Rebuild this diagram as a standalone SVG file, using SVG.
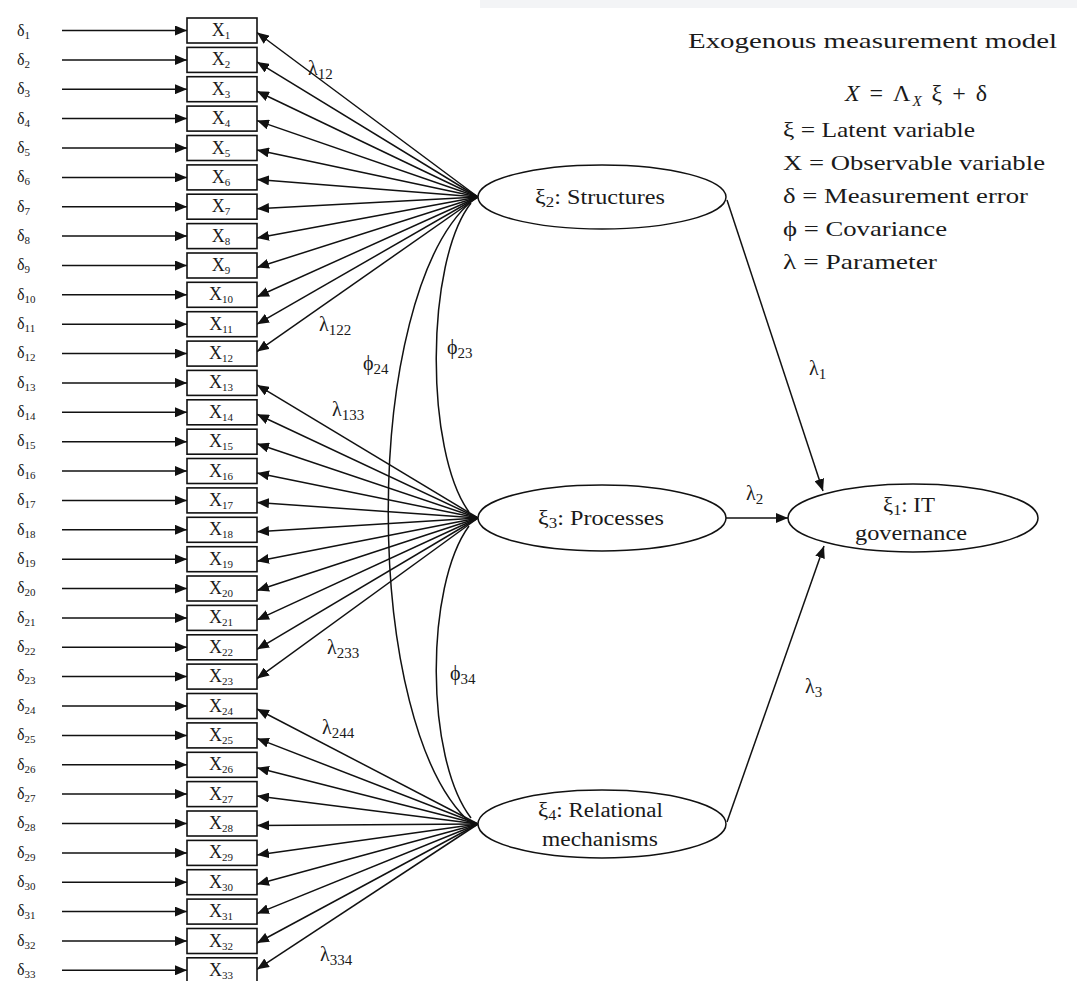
<svg xmlns="http://www.w3.org/2000/svg" width="1077" height="981" viewBox="0 0 1077 981" font-family="'Liberation Serif', 'DejaVu Serif', 'Times New Roman', serif">
<style>
text{font-family:'Liberation Serif','DejaVu Serif','Times New Roman',serif;fill:#1a1a1a}
.d{font-size:16px}
.ds{font-size:11px}
.x{font-size:18px}
.xs{font-size:11px}
.box{fill:#fff;stroke:#111;stroke-width:1.6}
.ell{fill:#fff;stroke:#111;stroke-width:1.5}
.ln{stroke:#111;stroke-width:1.5;fill:none}
.arr{stroke:#111;stroke-width:1.5;fill:none;marker-end:url(#ah)}
.lab{font-size:20px}
.ls{font-size:15px}
.nls{font-size:14px}
.nl{font-size:20px}
.leg{font-size:21px}
.eq{font-size:24px}
</style>
<defs>
<marker id="ah" markerWidth="12" markerHeight="10" refX="12" refY="5" orient="auto" markerUnits="userSpaceOnUse"><path d="M0,0 L12,5 L0,10 Z" fill="#111"/></marker>
</defs>
<rect width="1077" height="981" fill="#fff"/>
<rect x="480" y="0" width="597" height="8" fill="#f3f4f6"/>

<g id="connectors">
<g id="error-arrows">
<line class="arr" x1="62" y1="30.5" x2="187" y2="30.5"/>
<line class="arr" x1="62" y1="59.9" x2="187" y2="59.9"/>
<line class="arr" x1="62" y1="89.2" x2="187" y2="89.2"/>
<line class="arr" x1="62" y1="118.6" x2="187" y2="118.6"/>
<line class="arr" x1="62" y1="148" x2="187" y2="148"/>
<line class="arr" x1="62" y1="177.4" x2="187" y2="177.4"/>
<line class="arr" x1="62" y1="206.7" x2="187" y2="206.7"/>
<line class="arr" x1="62" y1="236.1" x2="187" y2="236.1"/>
<line class="arr" x1="62" y1="265.5" x2="187" y2="265.5"/>
<line class="arr" x1="62" y1="294.8" x2="187" y2="294.8"/>
<line class="arr" x1="62" y1="324.2" x2="187" y2="324.2"/>
<line class="arr" x1="62" y1="353.6" x2="187" y2="353.6"/>
<line class="arr" x1="62" y1="382.9" x2="187" y2="382.9"/>
<line class="arr" x1="62" y1="412.3" x2="187" y2="412.3"/>
<line class="arr" x1="62" y1="441.7" x2="187" y2="441.7"/>
<line class="arr" x1="62" y1="471" x2="187" y2="471"/>
<line class="arr" x1="62" y1="500.4" x2="187" y2="500.4"/>
<line class="arr" x1="62" y1="529.8" x2="187" y2="529.8"/>
<line class="arr" x1="62" y1="559.2" x2="187" y2="559.2"/>
<line class="arr" x1="62" y1="588.5" x2="187" y2="588.5"/>
<line class="arr" x1="62" y1="617.9" x2="187" y2="617.9"/>
<line class="arr" x1="62" y1="647.3" x2="187" y2="647.3"/>
<line class="arr" x1="62" y1="676.6" x2="187" y2="676.6"/>
<line class="arr" x1="62" y1="706" x2="187" y2="706"/>
<line class="arr" x1="62" y1="735.4" x2="187" y2="735.4"/>
<line class="arr" x1="62" y1="764.8" x2="187" y2="764.8"/>
<line class="arr" x1="62" y1="794.1" x2="187" y2="794.1"/>
<line class="arr" x1="62" y1="823.5" x2="187" y2="823.5"/>
<line class="arr" x1="62" y1="852.9" x2="187" y2="852.9"/>
<line class="arr" x1="62" y1="882.2" x2="187" y2="882.2"/>
<line class="arr" x1="62" y1="911.6" x2="187" y2="911.6"/>
<line class="arr" x1="62" y1="941" x2="187" y2="941"/>
<line class="arr" x1="62" y1="970.3" x2="187" y2="970.3"/>
</g>
<g id="loadings-xi2">
<line class="arr" x1="478" y1="197" x2="257" y2="32.5"/>
<line class="arr" x1="478" y1="197" x2="257" y2="61.9"/>
<line class="arr" x1="478" y1="197" x2="257" y2="91.2"/>
<line class="arr" x1="478" y1="197" x2="257" y2="120.6"/>
<line class="arr" x1="478" y1="197" x2="257" y2="150"/>
<line class="arr" x1="478" y1="197" x2="257" y2="179.4"/>
<line class="arr" x1="478" y1="197" x2="257" y2="208.7"/>
<line class="arr" x1="478" y1="197" x2="257" y2="238.1"/>
<line class="arr" x1="478" y1="197" x2="257" y2="267.5"/>
<line class="arr" x1="478" y1="197" x2="257" y2="296.8"/>
<line class="arr" x1="478" y1="197" x2="257" y2="324.2"/>
<line class="arr" x1="478" y1="197" x2="257" y2="351.6"/>
</g>
<g id="loadings-xi3">
<line class="arr" x1="478" y1="518" x2="257" y2="384.9"/>
<line class="arr" x1="478" y1="518" x2="257" y2="414.3"/>
<line class="arr" x1="478" y1="518" x2="257" y2="443.7"/>
<line class="arr" x1="478" y1="518" x2="257" y2="473"/>
<line class="arr" x1="478" y1="518" x2="257" y2="502.4"/>
<line class="arr" x1="478" y1="518" x2="257" y2="531.8"/>
<line class="arr" x1="478" y1="518" x2="257" y2="561.2"/>
<line class="arr" x1="478" y1="518" x2="257" y2="590.5"/>
<line class="arr" x1="478" y1="518" x2="257" y2="619.9"/>
<line class="arr" x1="478" y1="518" x2="257" y2="649.3"/>
<line class="arr" x1="478" y1="518" x2="257" y2="678.6"/>
</g>
<g id="loadings-xi4">
<line class="arr" x1="478" y1="824" x2="257" y2="709"/>
<line class="arr" x1="478" y1="824" x2="257" y2="738.4"/>
<line class="arr" x1="478" y1="824" x2="257" y2="767.8"/>
<line class="arr" x1="478" y1="824" x2="257" y2="796.1"/>
<line class="arr" x1="478" y1="824" x2="257" y2="825.5"/>
<line class="arr" x1="478" y1="824" x2="257" y2="854.9"/>
<line class="arr" x1="478" y1="824" x2="257" y2="884.2"/>
<line class="arr" x1="478" y1="824" x2="257" y2="913.6"/>
<line class="arr" x1="478" y1="824" x2="257" y2="943"/>
<line class="arr" x1="478" y1="824" x2="257" y2="969.3"/>
</g>
<g id="covariances">
<path class="ln" d="M471 203 C425 262 425 452 469 512"/>
<path class="ln" d="M469 526 C425 586 425 758 471 818"/>
<path class="ln" d="M473 200 C360 294 360 731 473 825"/>
</g>
<g id="structural">
<line class="arr" x1="727" y1="200" x2="823" y2="491"/>
<line class="arr" x1="726" y1="518" x2="788" y2="518"/>
<line class="arr" x1="727" y1="822" x2="824" y2="546"/>
</g>
</g>

<g id="errors">
<g id="d1"><text class="d" x="17" y="36">δ<tspan class="ds" dy="3">1</tspan></text></g>
<g id="d2"><text class="d" x="17" y="65">δ<tspan class="ds" dy="3">2</tspan></text></g>
<g id="d3"><text class="d" x="17" y="94">δ<tspan class="ds" dy="3">3</tspan></text></g>
<g id="d4"><text class="d" x="17" y="124">δ<tspan class="ds" dy="3">4</tspan></text></g>
<g id="d5"><text class="d" x="17" y="153">δ<tspan class="ds" dy="3">5</tspan></text></g>
<g id="d6"><text class="d" x="17" y="182">δ<tspan class="ds" dy="3">6</tspan></text></g>
<g id="d7"><text class="d" x="17" y="212">δ<tspan class="ds" dy="3">7</tspan></text></g>
<g id="d8"><text class="d" x="17" y="241">δ<tspan class="ds" dy="3">8</tspan></text></g>
<g id="d9"><text class="d" x="17" y="270">δ<tspan class="ds" dy="3">9</tspan></text></g>
<g id="d10"><text class="d" x="17" y="300">δ<tspan class="ds" dy="3">10</tspan></text></g>
<g id="d11"><text class="d" x="17" y="329">δ<tspan class="ds" dy="3">11</tspan></text></g>
<g id="d12"><text class="d" x="17" y="358">δ<tspan class="ds" dy="3">12</tspan></text></g>
<g id="d13"><text class="d" x="17" y="388">δ<tspan class="ds" dy="3">13</tspan></text></g>
<g id="d14"><text class="d" x="17" y="417">δ<tspan class="ds" dy="3">14</tspan></text></g>
<g id="d15"><text class="d" x="17" y="446">δ<tspan class="ds" dy="3">15</tspan></text></g>
<g id="d16"><text class="d" x="17" y="476">δ<tspan class="ds" dy="3">16</tspan></text></g>
<g id="d17"><text class="d" x="17" y="505">δ<tspan class="ds" dy="3">17</tspan></text></g>
<g id="d18"><text class="d" x="17" y="535">δ<tspan class="ds" dy="3">18</tspan></text></g>
<g id="d19"><text class="d" x="17" y="564">δ<tspan class="ds" dy="3">19</tspan></text></g>
<g id="d20"><text class="d" x="17" y="593">δ<tspan class="ds" dy="3">20</tspan></text></g>
<g id="d21"><text class="d" x="17" y="623">δ<tspan class="ds" dy="3">21</tspan></text></g>
<g id="d22"><text class="d" x="17" y="652">δ<tspan class="ds" dy="3">22</tspan></text></g>
<g id="d23"><text class="d" x="17" y="681">δ<tspan class="ds" dy="3">23</tspan></text></g>
<g id="d24"><text class="d" x="17" y="711">δ<tspan class="ds" dy="3">24</tspan></text></g>
<g id="d25"><text class="d" x="17" y="740">δ<tspan class="ds" dy="3">25</tspan></text></g>
<g id="d26"><text class="d" x="17" y="770">δ<tspan class="ds" dy="3">26</tspan></text></g>
<g id="d27"><text class="d" x="17" y="799">δ<tspan class="ds" dy="3">27</tspan></text></g>
<g id="d28"><text class="d" x="17" y="828">δ<tspan class="ds" dy="3">28</tspan></text></g>
<g id="d29"><text class="d" x="17" y="858">δ<tspan class="ds" dy="3">29</tspan></text></g>
<g id="d30"><text class="d" x="17" y="887">δ<tspan class="ds" dy="3">30</tspan></text></g>
<g id="d31"><text class="d" x="17" y="916">δ<tspan class="ds" dy="3">31</tspan></text></g>
<g id="d32"><text class="d" x="17" y="946">δ<tspan class="ds" dy="3">32</tspan></text></g>
<g id="d33"><text class="d" x="17" y="975">δ<tspan class="ds" dy="3">33</tspan></text></g>
</g>

<g id="observed">
<g id="x1"><rect class="box" x="187" y="18" width="70" height="25"/><text class="x" x="221" y="36" text-anchor="middle">X<tspan class="xs" dy="3">1</tspan></text></g>
<g id="x2"><rect class="box" x="187" y="47.4" width="70" height="25"/><text class="x" x="221" y="65.4" text-anchor="middle">X<tspan class="xs" dy="3">2</tspan></text></g>
<g id="x3"><rect class="box" x="187" y="76.7" width="70" height="25"/><text class="x" x="221" y="94.7" text-anchor="middle">X<tspan class="xs" dy="3">3</tspan></text></g>
<g id="x4"><rect class="box" x="187" y="106.1" width="70" height="25"/><text class="x" x="221" y="124.1" text-anchor="middle">X<tspan class="xs" dy="3">4</tspan></text></g>
<g id="x5"><rect class="box" x="187" y="135.5" width="70" height="25"/><text class="x" x="221" y="153.5" text-anchor="middle">X<tspan class="xs" dy="3">5</tspan></text></g>
<g id="x6"><rect class="box" x="187" y="164.9" width="70" height="25"/><text class="x" x="221" y="182.9" text-anchor="middle">X<tspan class="xs" dy="3">6</tspan></text></g>
<g id="x7"><rect class="box" x="187" y="194.2" width="70" height="25"/><text class="x" x="221" y="212.2" text-anchor="middle">X<tspan class="xs" dy="3">7</tspan></text></g>
<g id="x8"><rect class="box" x="187" y="223.6" width="70" height="25"/><text class="x" x="221" y="241.6" text-anchor="middle">X<tspan class="xs" dy="3">8</tspan></text></g>
<g id="x9"><rect class="box" x="187" y="253" width="70" height="25"/><text class="x" x="221" y="271" text-anchor="middle">X<tspan class="xs" dy="3">9</tspan></text></g>
<g id="x10"><rect class="box" x="187" y="282.3" width="70" height="25"/><text class="x" x="221" y="300.3" text-anchor="middle">X<tspan class="xs" dy="3">10</tspan></text></g>
<g id="x11"><rect class="box" x="187" y="311.7" width="70" height="25"/><text class="x" x="221" y="329.7" text-anchor="middle">X<tspan class="xs" dy="3">11</tspan></text></g>
<g id="x12"><rect class="box" x="187" y="341.1" width="70" height="25"/><text class="x" x="221" y="359.1" text-anchor="middle">X<tspan class="xs" dy="3">12</tspan></text></g>
<g id="x13"><rect class="box" x="187" y="370.4" width="70" height="25"/><text class="x" x="221" y="388.4" text-anchor="middle">X<tspan class="xs" dy="3">13</tspan></text></g>
<g id="x14"><rect class="box" x="187" y="399.8" width="70" height="25"/><text class="x" x="221" y="417.8" text-anchor="middle">X<tspan class="xs" dy="3">14</tspan></text></g>
<g id="x15"><rect class="box" x="187" y="429.2" width="70" height="25"/><text class="x" x="221" y="447.2" text-anchor="middle">X<tspan class="xs" dy="3">15</tspan></text></g>
<g id="x16"><rect class="box" x="187" y="458.5" width="70" height="25"/><text class="x" x="221" y="476.5" text-anchor="middle">X<tspan class="xs" dy="3">16</tspan></text></g>
<g id="x17"><rect class="box" x="187" y="487.9" width="70" height="25"/><text class="x" x="221" y="505.9" text-anchor="middle">X<tspan class="xs" dy="3">17</tspan></text></g>
<g id="x18"><rect class="box" x="187" y="517.3" width="70" height="25"/><text class="x" x="221" y="535.3" text-anchor="middle">X<tspan class="xs" dy="3">18</tspan></text></g>
<g id="x19"><rect class="box" x="187" y="546.7" width="70" height="25"/><text class="x" x="221" y="564.7" text-anchor="middle">X<tspan class="xs" dy="3">19</tspan></text></g>
<g id="x20"><rect class="box" x="187" y="576" width="70" height="25"/><text class="x" x="221" y="594" text-anchor="middle">X<tspan class="xs" dy="3">20</tspan></text></g>
<g id="x21"><rect class="box" x="187" y="605.4" width="70" height="25"/><text class="x" x="221" y="623.4" text-anchor="middle">X<tspan class="xs" dy="3">21</tspan></text></g>
<g id="x22"><rect class="box" x="187" y="634.8" width="70" height="25"/><text class="x" x="221" y="652.8" text-anchor="middle">X<tspan class="xs" dy="3">22</tspan></text></g>
<g id="x23"><rect class="box" x="187" y="664.1" width="70" height="25"/><text class="x" x="221" y="682.1" text-anchor="middle">X<tspan class="xs" dy="3">23</tspan></text></g>
<g id="x24"><rect class="box" x="187" y="693.5" width="70" height="25"/><text class="x" x="221" y="711.5" text-anchor="middle">X<tspan class="xs" dy="3">24</tspan></text></g>
<g id="x25"><rect class="box" x="187" y="722.9" width="70" height="25"/><text class="x" x="221" y="740.9" text-anchor="middle">X<tspan class="xs" dy="3">25</tspan></text></g>
<g id="x26"><rect class="box" x="187" y="752.3" width="70" height="25"/><text class="x" x="221" y="770.3" text-anchor="middle">X<tspan class="xs" dy="3">26</tspan></text></g>
<g id="x27"><rect class="box" x="187" y="781.6" width="70" height="25"/><text class="x" x="221" y="799.6" text-anchor="middle">X<tspan class="xs" dy="3">27</tspan></text></g>
<g id="x28"><rect class="box" x="187" y="811" width="70" height="25"/><text class="x" x="221" y="829" text-anchor="middle">X<tspan class="xs" dy="3">28</tspan></text></g>
<g id="x29"><rect class="box" x="187" y="840.4" width="70" height="25"/><text class="x" x="221" y="858.4" text-anchor="middle">X<tspan class="xs" dy="3">29</tspan></text></g>
<g id="x30"><rect class="box" x="187" y="869.7" width="70" height="25"/><text class="x" x="221" y="887.7" text-anchor="middle">X<tspan class="xs" dy="3">30</tspan></text></g>
<g id="x31"><rect class="box" x="187" y="899.1" width="70" height="25"/><text class="x" x="221" y="917.1" text-anchor="middle">X<tspan class="xs" dy="3">31</tspan></text></g>
<g id="x32"><rect class="box" x="187" y="928.5" width="70" height="25"/><text class="x" x="221" y="946.5" text-anchor="middle">X<tspan class="xs" dy="3">32</tspan></text></g>
<g id="x33"><rect class="box" x="187" y="957.8" width="70" height="25"/><text class="x" x="221" y="975.8" text-anchor="middle">X<tspan class="xs" dy="3">33</tspan></text></g>
</g>

<g id="xi2"><ellipse class="ell" cx="602" cy="197" rx="124" ry="32"/><text class="nl" x="535" y="204" textLength="130" lengthAdjust="spacingAndGlyphs">ξ<tspan class="nls" dy="3">2</tspan><tspan dy="-3">: Structures</tspan></text></g>
<g id="xi3"><ellipse class="ell" cx="602" cy="518" rx="124" ry="33"/><text class="nl" x="538" y="525" textLength="126" lengthAdjust="spacingAndGlyphs">ξ<tspan class="nls" dy="3">3</tspan><tspan dy="-3">: Processes</tspan></text></g>
<g id="xi4"><ellipse class="ell" cx="602" cy="824" rx="124" ry="34"/><text class="nl" x="538" y="817" textLength="125" lengthAdjust="spacingAndGlyphs">ξ<tspan class="nls" dy="3">4</tspan><tspan dy="-3">: Relational</tspan></text><text class="nl" x="542" y="846" textLength="116" lengthAdjust="spacingAndGlyphs">mechanisms</text></g>
<g id="xi1"><ellipse class="ell" cx="913" cy="518" rx="125" ry="34"/><text class="nl" x="883" y="512" textLength="52" lengthAdjust="spacingAndGlyphs">ξ<tspan class="nls" dy="3">1</tspan><tspan dy="-3">: IT</tspan></text><text class="nl" x="855" y="540" textLength="112" lengthAdjust="spacingAndGlyphs">governance</text></g>

<g id="labels">
<text class="lab" x="308" y="75">λ<tspan class="ls" dy="4">12</tspan></text>
<text class="lab" x="319" y="331">λ<tspan class="ls" dy="4">122</tspan></text>
<text class="lab" x="332" y="416">λ<tspan class="ls" dy="4">133</tspan></text>
<text class="lab" x="327" y="654">λ<tspan class="ls" dy="4">233</tspan></text>
<text class="lab" x="322" y="734">λ<tspan class="ls" dy="4">244</tspan></text>
<text class="lab" x="320" y="961">λ<tspan class="ls" dy="4">334</tspan></text>
<text class="lab" x="363" y="370">ϕ<tspan class="ls" dy="4">24</tspan></text>
<text class="lab" x="447" y="354">ϕ<tspan class="ls" dy="4">23</tspan></text>
<text class="lab" x="450" y="680">ϕ<tspan class="ls" dy="4">34</tspan></text>
<text class="lab" x="809" y="375">λ<tspan class="ls" dy="4">1</tspan></text>
<text class="lab" x="746" y="500">λ<tspan class="ls" dy="4">2</tspan></text>
<text class="lab" x="805" y="693">λ<tspan class="ls" dy="4">3</tspan></text>
</g>

<g id="legend">
<text class="leg" x="688" y="48" textLength="369" lengthAdjust="spacingAndGlyphs">Exogenous  measurement  model</text>
<text class="eq" x="845" y="101" textLength="142" lengthAdjust="spacing"><tspan font-style="italic">X</tspan> = Λ<tspan font-style="italic" font-size="15" dy="5">X</tspan><tspan dy="-5"> ξ + δ</tspan></text>
<text class="leg" x="783" y="137" textLength="192" lengthAdjust="spacingAndGlyphs">ξ = Latent variable</text>
<text class="leg" x="783" y="170" textLength="262" lengthAdjust="spacingAndGlyphs">X = Observable variable</text>
<text class="leg" x="783" y="203" textLength="245" lengthAdjust="spacingAndGlyphs">δ = Measurement error</text>
<text class="leg" x="783" y="236" textLength="164" lengthAdjust="spacingAndGlyphs">ϕ = Covariance</text>
<text class="leg" x="783" y="269" textLength="154" lengthAdjust="spacingAndGlyphs">λ = Parameter</text>
</g>
</svg>
